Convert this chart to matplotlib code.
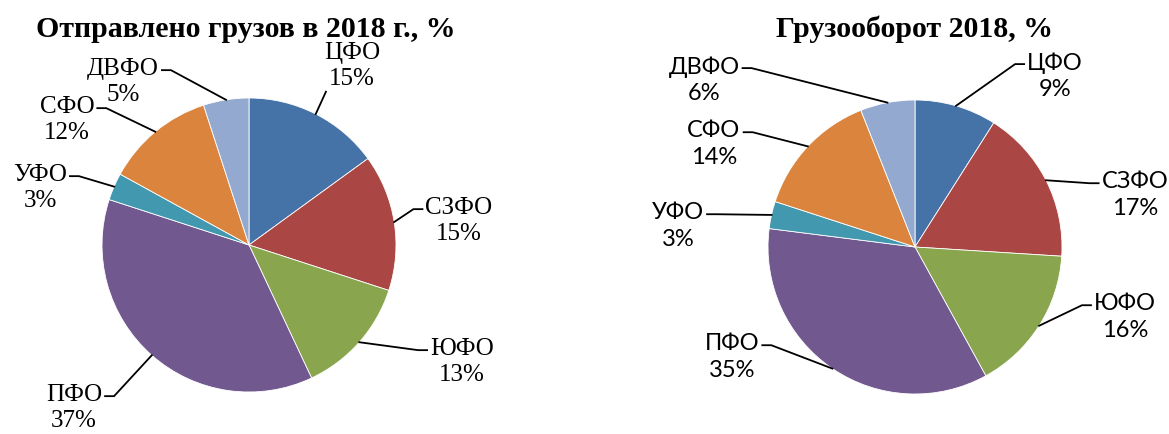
import numpy as np
import matplotlib
matplotlib.use("Agg")
import matplotlib.pyplot as plt

# Отправлено грузов / грузооборот по федеральным округам, 2018, %
regions = ["ЦФО", "СЗФО", "ЮФО", "ПФО", "УФО", "СФО", "ДВФО"]
shipped = [15, 15, 13, 37, 3, 12, 5]
turnover = [9, 17, 16, 35, 3, 14, 6]
colors = ["#4572A7", "#AA4643", "#89A54E", "#71588F", "#4198AF", "#DB843D", "#93A9CF"]

W, H = 1169, 434
R = 147

# label block centres in pixels (from top-left)
left_label_pos = [(352, 66), (459, 221), (462, 362), (74, 408), (40, 188), (67, 120), (123, 82)]
right_label_pos = [(1055, 76), (1135, 195), (1125, 317), (732, 357), (678, 226), (714, 144), (704, 80)]

fig = plt.figure(figsize=(W / 100, H / 100), dpi=100)
ax = fig.add_axes([0, 0, 1, 1])


def draw_pie(values, center, label_pos, title, title_x, font, fsize, lsp):
    cx, cy = center
    cy = H - cy
    wedges, _ = ax.pie(values, colors=colors, startangle=90, counterclock=False,
                       center=(cx, cy), radius=R, frame=True,
                       wedgeprops=dict(edgecolor="white", linewidth=0.6))
    texts = []
    for name, v, (tx, ty) in zip(regions, values, label_pos):
        t = ax.text(tx, H - ty, f"{name}\n{v}%", ha="center", va="center",
                    fontsize=fsize, family=font, linespacing=lsp)
        texts.append(t)
    ax.text(title_x, H - 37, title, ha="center", va="baseline", fontsize=21.5,
            family="Liberation Serif", fontweight="bold")
    return wedges, texts


def draw_leaders(values, center, texts):
    cx, cy = center
    cy = H - cy
    fig.canvas.draw()
    renderer = fig.canvas.get_renderer()
    total = float(sum(values))
    start = 90.0
    for v, t in zip(values, texts):
        mid = np.deg2rad(start - 360.0 * v / total / 2)
        start -= 360.0 * v / total
        px, py = cx + R * np.cos(mid), cy + R * np.sin(mid)
        bb = t.get_window_extent(renderer)
        if bb.x0 - 20 < px < bb.x1 and py < bb.y0:
            # label sits right above its slice: straight line from under the text
            ax.plot([bb.x0 + 2, px], [bb.y0 - 2, py], color="black", lw=1.3, zorder=5)
            continue
        ly = bb.y1 - bb.height / 4
        if bb.x0 > px:
            sx = bb.x0 - 3
            kx = sx - 9
        else:
            sx = bb.x1 + 3
            kx = sx + 9
        ax.plot([sx, kx, px], [ly, ly, py], color="black", lw=1.3,
                solid_joinstyle="miter", zorder=5)


w1, t1 = draw_pie(shipped, (249, 245), left_label_pos,
                  "Отправлено грузов в 2018 г., %", 246, "Liberation Serif", 18, 1.2)
w2, t2 = draw_pie(turnover, (915, 247), right_label_pos,
                  "Грузооборот 2018, %", 914, "Lato", 17, 1.3)

ax.set_xlim(0, W)
ax.set_ylim(0, H)
ax.axis("off")

draw_leaders(shipped, (249, 245), t1)
draw_leaders(turnover, (915, 247), t2)

fig.savefig("out.png", dpi=100)
